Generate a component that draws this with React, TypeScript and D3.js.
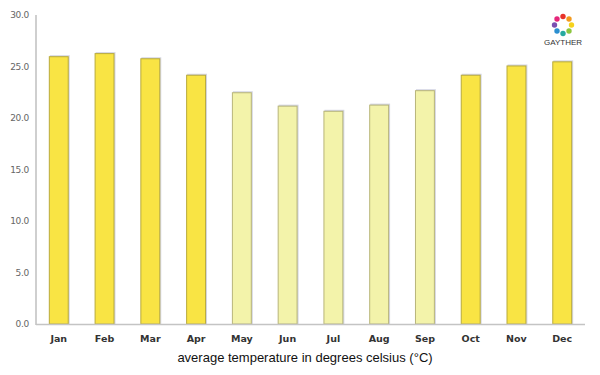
import React from "react";
import * as d3 from "d3";

const months = ["Jan", "Feb", "Mar", "Apr", "May", "Jun", "Jul", "Aug", "Sep", "Oct", "Nov", "Dec"];
const temps = [26.0, 26.3, 25.8, 24.2, 22.5, 21.2, 20.7, 21.3, 22.7, 24.2, 25.1, 25.5];
const warmMonths = ["Jan", "Feb", "Mar", "Apr", "Oct", "Nov", "Dec"];
const yTicks = [0, 5, 10, 15, 20, 25, 30];
const axisTitle = "average temperature in degrees celsius (°C)";
const logoText = "GAYTHER";
const logoColors = ["#e8332a", "#f39a1e", "#f6d21c", "#8cc63f", "#27a9a0", "#2b8fd0", "#7a4fb0", "#e5267b"];

export default function App() {
  const W = 600, H = 375;
  const left = 36, right = 585, top = 15, bottom = 324;
  const x = d3.scaleBand<string>().domain(months).range([left, right]).paddingInner(0.565).paddingOuter(0.28);
  const y = d3.scaleLinear().domain([0, 30]).range([bottom, top]);
  const lx = 563, ly = 25, lr = 8.5;
  return (
    <svg width={W} height={H} style={{ position: "absolute", left: 0, top: 0, background: "#fff" }}>
      {months.map((m, i) => {
        const warm = warmMonths.includes(m);
        const bx = x(m)!;
        const bw = x.bandwidth();
        const by = y(temps[i]);
        return (
          <g key={m}>
            <rect x={bx + 1} y={by - 1} width={bw} height={bottom - by + 1} fill="#d4d6e4" />
            <rect x={bx + 0.5} y={by + 0.5} width={bw - 1} height={bottom - by - 0.5}
              fill={warm ? "#f9e444" : "#f3f3aa"} stroke={warm ? "#b9ab3c" : "#b8b57a"} strokeWidth={1} />
          </g>
        );
      })}
      <line x1={left} x2={left} y1={top} y2={bottom + 1} stroke="#cfcfcf" strokeWidth={2} />
      <line x1={left} x2={right} y1={bottom + 0.5} y2={bottom + 0.5} stroke="#c4c4c4" strokeWidth={1.5} />
      {yTicks.map((t) => (
        <text key={t} x={29} y={y(t)} dy="0.35em" textAnchor="end" fontSize={9}
          fontFamily="'DejaVu Sans', sans-serif" fill="#666" style={{ letterSpacing: "-0.3px" }}>
          {t.toFixed(1)}
        </text>
      ))}
      {months.map((m) => (
        <text key={m} x={x(m)! + x.bandwidth() / 2} y={339} dy="0.35em" textAnchor="middle" fontSize={9.5}
          fontWeight="bold" fontFamily="'DejaVu Sans', sans-serif" fill="#333">
          {m}
        </text>
      ))}
      <text x={305} y={357} dy="0.35em" textAnchor="middle" fontSize={13}
        fontFamily="'Liberation Sans', Arial, sans-serif" fill="#111">
        {axisTitle}
      </text>
      {logoColors.map((c, i) => {
        const a = (i / logoColors.length) * Math.PI * 2 - Math.PI / 2;
        return <circle key={i} cx={lx + lr * Math.cos(a)} cy={ly + lr * Math.sin(a)} r={2.7} fill={c} />;
      })}
      <text x={lx} y={45} textAnchor="middle" fontSize={8} fontFamily="'Liberation Sans', Arial, sans-serif" fill="#333">
        {logoText}
      </text>
    </svg>
  );
}
